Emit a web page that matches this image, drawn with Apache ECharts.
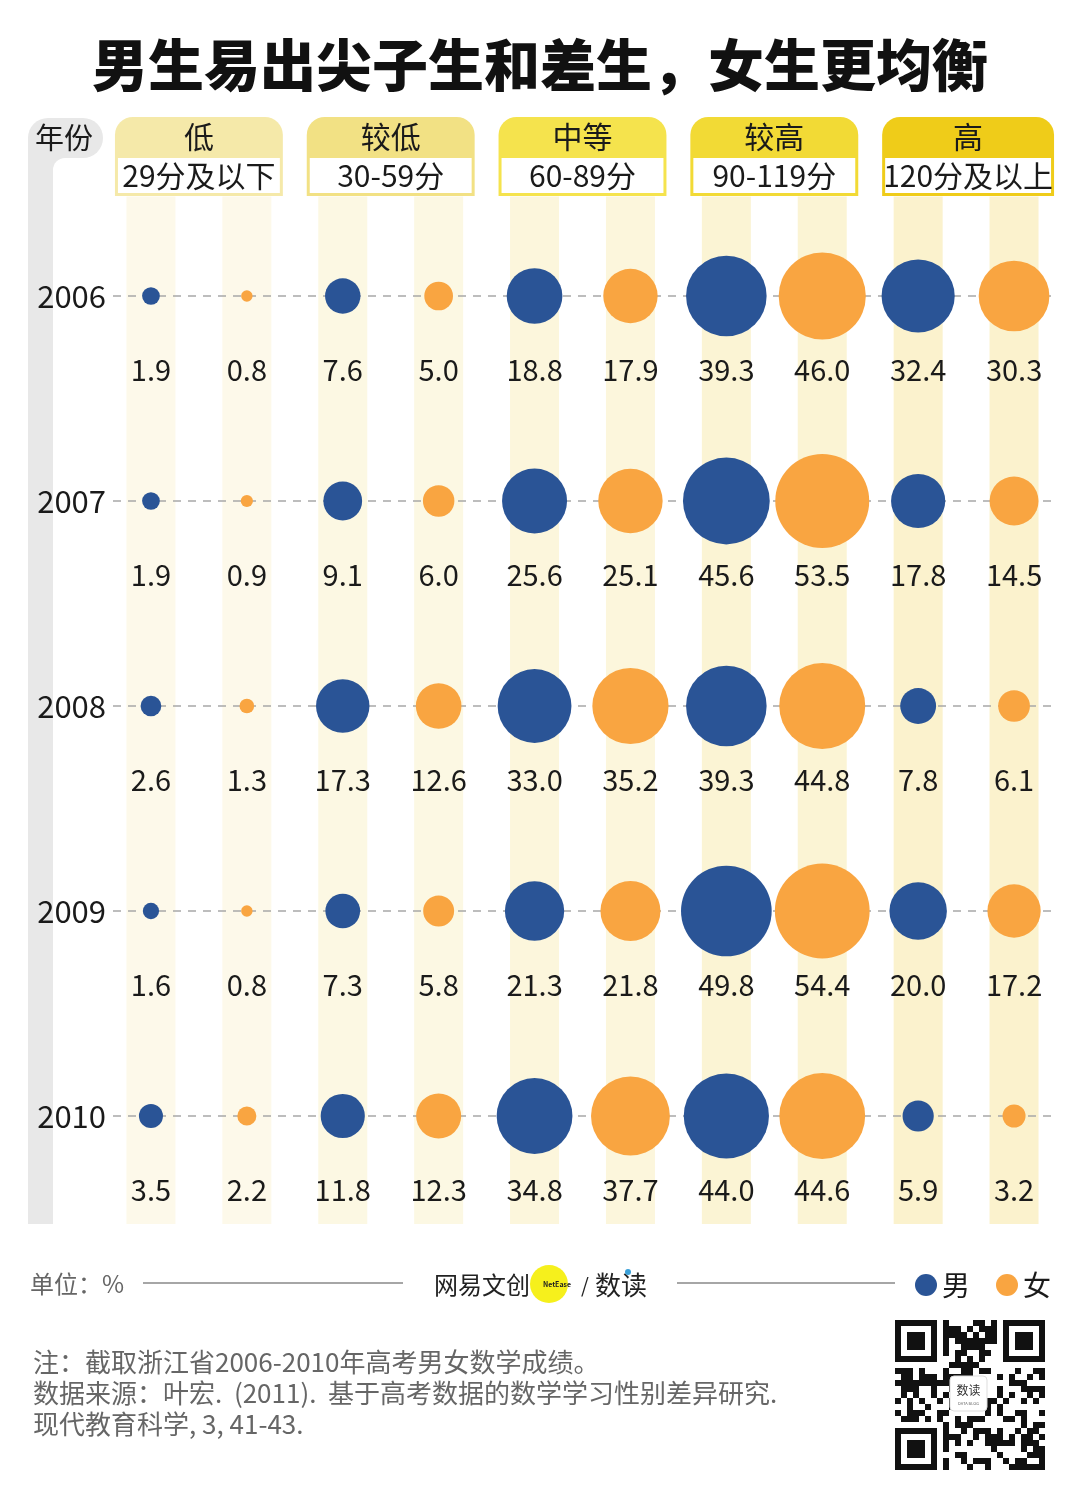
<!DOCTYPE html>
<html><head><meta charset="utf-8">
<script src="https://cdn.jsdelivr.net/npm/echarts@6/dist/echarts.min.js"></script>
<style>html,body{margin:0;padding:0;background:#fff}#c{width:1080px;height:1497px}</style>
</head><body><div id="c"></div>
<script>
const years = ['2006','2007','2008','2009','2010'];
const bands = ['低','较低','中等','较高','高'];
const bandRanges = ['29分及以下','30-59分','60-89分','90-119分','120分及以上'];
const male = [
  [1.9, 7.6, 18.8, 39.3, 32.4],
  [1.9, 9.1, 25.6, 45.6, 17.8],
  [2.6, 17.3, 33.0, 39.3, 7.8],
  [1.6, 7.3, 21.3, 49.8, 20.0],
  [3.5, 11.8, 34.8, 44.0, 5.9]
];
const female = [
  [0.8, 5.0, 17.9, 46.0, 30.3],
  [0.9, 6.0, 25.1, 53.5, 14.5],
  [1.3, 12.6, 35.2, 44.8, 6.1],
  [0.8, 5.8, 21.8, 54.4, 17.2],
  [2.2, 12.3, 37.7, 44.6, 3.2]
];
const seriesNames = ['男','女'];

const FONT = "'Noto Sans CJK SC', sans-serif";
const BLUE = '#2A5496', ORANGE = '#F9A541';
const headColors = ['#F5E9A9','#F2E184','#F5E34D','#F2DA35','#EFCC19'];
const stripeColors = ['#FDF9EA','#FCF8E3','#FCF6DC','#FBF4D4','#FBF2CD'];

const xCats = [];
bands.forEach(b => { xCats.push(b + '男'); xCats.push(b + '女'); });

const maleData = [], femaleData = [];
years.forEach((y, yi) => {
  bands.forEach((b, bi) => {
    maleData.push([2 * bi, yi, male[yi][bi]]);
    femaleData.push([2 * bi + 1, yi, female[yi][bi]]);
  });
});

const sizeOf = v => 12.85 * Math.sqrt(v[2]);
const labelCfg = {
  show: true, position: 'inside', offset: [0, 74],
  formatter: p => p.value[2].toFixed(1),
  color: '#1a1a1a', fontSize: 29, fontFamily: FONT
};

// QR-code decoration (not chart data)
function qrChildren() {
  const ch = [];
  const x0 = 895, y0 = 1320, n = 25, m = 6;
  ch.push({type:'rect', shape:{x:x0-4,y:y0-4,width:n*m+8,height:n*m+8}, style:{fill:'#fff'}});
  function finder(cx, cy) {
    ch.push({type:'rect', shape:{x:x0+cx*m,y:y0+cy*m,width:7*m,height:7*m}, style:{fill:'#111'}});
    ch.push({type:'rect', shape:{x:x0+cx*m+m,y:y0+cy*m+m,width:5*m,height:5*m}, style:{fill:'#fff'}});
    ch.push({type:'rect', shape:{x:x0+cx*m+2*m,y:y0+cy*m+2*m,width:3*m,height:3*m}, style:{fill:'#111'}});
  }
  function bit(i, j) {
    let h = (i * 25 + j + 1) >>> 0;
    h = Math.imul(h ^ (h >>> 16), 0x45d9f3b) >>> 0;
    h = Math.imul(h ^ (h >>> 16), 0x45d9f3b) >>> 0;
    h = (h ^ (h >>> 16)) >>> 0;
    return (h & 1) === 1;
  }
  for (let i = 0; i < n; i++) for (let j = 0; j < n; j++) {
    const inF = (i < 8 && j < 8) || (i < 8 && j >= n - 8) || (i >= n - 8 && j < 8);
    if (inF) continue;
    if (bit(i, j)) ch.push({type:'rect', shape:{x:x0+j*m,y:y0+i*m,width:m,height:m}, style:{fill:'#111'}});
  }
  finder(0, 0); finder(n - 7, 0); finder(0, n - 7);
  ch.push({type:'rect', shape:{x:950,y:1376,width:37,height:35,r:4}, style:{fill:'#fff',stroke:'#ddd',lineWidth:1}});
  ch.push({type:'text', style:{x:968.5,y:1390,text:'数读',fill:'#333',font:'12px '+FONT,align:'center',verticalAlign:'middle'}});
  ch.push({type:'text', style:{x:968.5,y:1403,text:'DATA BLOG',fill:'#666',font:'4px '+FONT,align:'center',verticalAlign:'middle'}});
  return ch;
}

const chart = echarts.init(document.getElementById('c'), null, {renderer: 'canvas'});
chart.setOption({
  backgroundColor: '#fff',
  animation: false,
  textStyle: { fontFamily: FONT },
  grid: { left: 103, right: 18, top: 193.5, height: 1025 },
  xAxis: {
    type: 'category', data: xCats, boundaryGap: true,
    axisLine: {show: false}, axisTick: {show: false}, axisLabel: {show: false}, splitLine: {show: false}
  },
  yAxis: {
    type: 'category', data: years, inverse: true, boundaryGap: true,
    axisLine: {show: false}, axisTick: {show: false}, splitLine: {show: false},
    axisLabel: { margin: -3, fontSize: 31, color: '#1a1a1a', fontFamily: FONT }
  },
  legend: {
    data: seriesNames, left: 915, top: 1271, icon: 'circle', itemWidth: 22, itemHeight: 22,
    itemGap: 26, padding: 0, textStyle: { fontSize: 28, color: '#1a1a1a', fontFamily: FONT }
  },
  series: [
    {
      type: 'custom', name: 'stripes', silent: true, z: 0,
      data: xCats.map((c, i) => [i, 0]),
      renderItem: (params, api) => {
        const i = api.value(0);
        const x = api.coord([i, 0])[0];
        const cs = params.coordSys;
        return { type: 'rect', shape: { x: x - 24.5, y: cs.y + 3, width: 49, height: cs.height + 2.5 },
          style: { fill: stripeColors[Math.floor(i / 2)] } };
      }
    },
    {
      type: 'custom', name: 'dashes', silent: true, z: 1,
      data: years.map((y, i) => [0, i]),
      renderItem: (params, api) => {
        const y = api.coord([0, api.value(1)])[1];
        const cs = params.coordSys;
        return { type: 'line', shape: { x1: cs.x + 10, y1: y, x2: cs.x + cs.width - 10, y2: y },
          style: { stroke: '#A8A8A8', lineWidth: 1.5, lineDash: [8, 7] } };
      }
    },
    {
      type: 'custom', name: 'headers', silent: true, z: 2,
      data: bands.map((b, i) => [i, 0]),
      renderItem: (params, api) => {
        const g = api.value(0);
        const x1 = api.coord([2 * g, 0])[0] - 36;
        const x2 = api.coord([2 * g + 1, 0])[0] + 36 + (g === 4 ? 4 : 0);
        const w = x2 - x1, cx = (x1 + x2) / 2;
        return { type: 'group', children: [
          { type: 'rect', shape: { x: x1, y: 117, width: w, height: 79, r: [18, 18, 0, 0] }, style: { fill: headColors[g] } },
          { type: 'rect', shape: { x: x1 + 3, y: 158, width: w - 6, height: 35 }, style: { fill: '#fff' } },
          { type: 'text', style: { x: cx, y: 137, text: bands[g], fill: '#1a1a1a', font: '30px ' + FONT, align: 'center', verticalAlign: 'middle' } },
          { type: 'text', style: { x: cx, y: 176, text: bandRanges[g], fill: '#1a1a1a', font: '30px ' + FONT, align: 'center', verticalAlign: 'middle' } }
        ] };
      }
    },
    {
      type: 'scatter', name: '男', z: 3, data: maleData, symbolSize: sizeOf,
      itemStyle: { color: BLUE, opacity: 1 }, label: labelCfg
    },
    {
      type: 'scatter', name: '女', z: 3, data: femaleData, symbolSize: sizeOf,
      itemStyle: { color: ORANGE, opacity: 1 }, label: labelCfg
    }
  ],
  graphic: [
    { type: 'text', left: 'center', top: 37, style: { text: '男生易出尖子生和差生，女生更均衡', fill: '#111', font: '900 56px ' + FONT } },
    // year pill and bar
    { type: 'rect', shape: { x: 28, y: 118, width: 75, height: 40, r: 20 }, style: { fill: '#E8E8E8' } },
    { type: 'rect', shape: { x: 28, y: 138, width: 25, height: 1086 }, style: { fill: '#E8E8E8' } },
    { type: 'rect', shape: { x: 53, y: 156, width: 12, height: 14 }, style: { fill: '#E8E8E8' } },
    { type: 'circle', shape: { cx: 65, cy: 170, r: 12 }, style: { fill: '#fff' } },
    { type: 'text', style: { x: 64, y: 138, text: '年份', fill: '#1a1a1a', font: '29px ' + FONT, align: 'center', verticalAlign: 'middle' } },
    // footer
    { type: 'text', style: { x: 30, y: 1284, text: '单位：%', fill: '#666', font: '24px ' + FONT, verticalAlign: 'middle' } },
    { type: 'line', shape: { x1: 143, y1: 1283, x2: 403, y2: 1283 }, style: { stroke: '#888', lineWidth: 1.5 } },
    { type: 'line', shape: { x1: 677, y1: 1283, x2: 895, y2: 1283 }, style: { stroke: '#888', lineWidth: 1.5 } },
    { type: 'text', style: { x: 434, y: 1285, text: '网易文创', fill: '#222', font: '24px ' + FONT, verticalAlign: 'middle' } },
    { type: 'circle', shape: { cx: 549, cy: 1284, r: 19 }, style: { fill: '#F6F01C' } },
    { type: 'text', style: { x: 557, y: 1284, text: 'NetEase', fill: '#222', font: 'bold 7px ' + FONT, align: 'center', verticalAlign: 'middle' } },
    { type: 'text', style: { x: 585, y: 1285, text: '/', fill: '#222', font: '20px ' + FONT, align: 'center', verticalAlign: 'middle' } },
    { type: 'text', style: { x: 595, y: 1285, text: '数读', fill: '#222', font: '26px ' + FONT, verticalAlign: 'middle' } },
    { type: 'circle', shape: { cx: 628, cy: 1272, r: 3 }, style: { fill: '#3AA0D8' } },
    // notes
    { type: 'text', style: { x: 33, y: 1362, text: '注：截取浙江省2006-2010年高考男女数学成绩。', fill: '#666', font: '26px ' + FONT, verticalAlign: 'middle' } },
    { type: 'text', style: { x: 33, y: 1393, text: '数据来源：叶宏.  (2011).  基于高考数据的数学学习性别差异研究.', fill: '#666', font: '26px ' + FONT, verticalAlign: 'middle' } },
    { type: 'text', style: { x: 33, y: 1424, text: '现代教育科学, 3, 41-43.', fill: '#666', font: '26px ' + FONT, verticalAlign: 'middle' } },
    { type: 'group', children: qrChildren() }
  ]
});
</script></body></html>
